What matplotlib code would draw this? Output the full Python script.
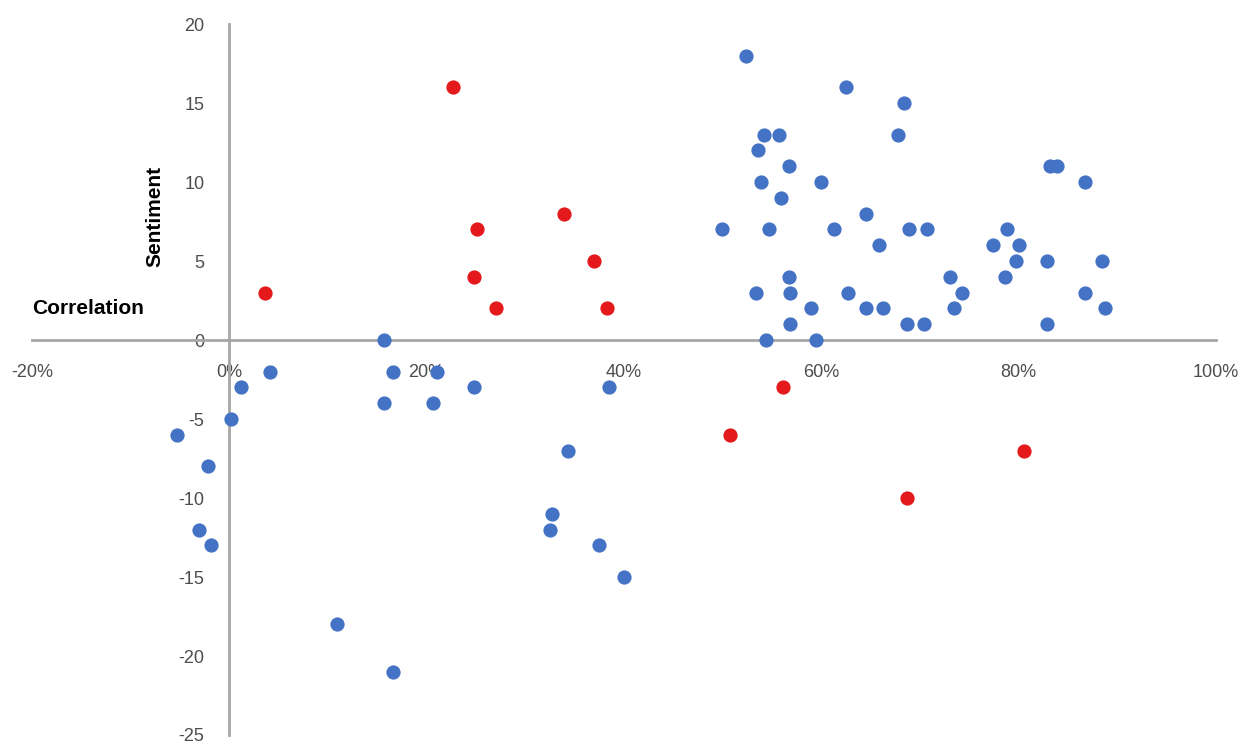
import matplotlib.pyplot as plt
from matplotlib.ticker import FuncFormatter

plt.rcParams['font.family'] = ['Liberation Sans', 'DejaVu Sans']
plt.rcParams['axes.unicode_minus'] = False

# blue points: correlation (%) and sentiment
blue_corr = [15.7, 4.1, 16.6, 1.2, 15.7, 0.2, -5.3, -2.2, -3.1, -1.9, 10.9, 16.6,
             21.0, 24.8, 20.6, 38.5, 34.3, 32.7, 32.5, 37.5, 40.0,
             52.4, 54.2, 55.7, 53.6, 56.7, 53.9, 60.0, 55.9, 49.9, 54.7, 56.7,
             53.4, 56.8, 59.0, 56.8, 54.4, 59.5,
             62.5, 68.4, 67.8, 83.2, 83.9, 86.7, 64.5, 61.3, 68.9, 70.7, 78.8,
             65.8, 77.4, 80.0, 79.7, 82.9, 88.4, 73.0, 78.6, 62.7, 74.3, 86.7,
             64.5, 66.3, 73.4, 88.8, 68.7, 70.4, 82.9]
blue_sent = [0, -2, -2, -3, -4, -5, -6, -8, -12, -13, -18, -21,
             -2, -3, -4, -3, -7, -11, -12, -13, -15,
             18, 13, 13, 12, 11, 10, 10, 9, 7, 7, 4,
             3, 3, 2, 1, 0, 0,
             16, 15, 13, 11, 11, 10, 8, 7, 7, 7, 7,
             6, 6, 6, 5, 5, 5, 4, 4, 3, 3, 3,
             2, 2, 2, 2, 1, 1, 1]

# red points
red_corr = [3.6, 22.7, 25.1, 24.8, 27.0, 33.9, 37.0, 38.3, 56.1, 50.7, 80.5, 68.7]
red_sent = [3, 16, 7, 4, 2, 8, 5, 2, -3, -6, -7, -10]

x_ticks = [-20, 0, 20, 40, 60, 80, 100]
y_ticks = [-25, -20, -15, -10, -5, 0, 5, 10, 15, 20]

fig = plt.figure(figsize=(12.44, 7.44), dpi=100)
ax = fig.add_axes([0.0257, 0.0121, 0.9518, 0.9556])

ax.scatter(blue_corr, blue_sent, s=105, color='#4472C4', linewidths=0, zorder=3)
ax.scatter(red_corr, red_sent, s=105, color='#E3191C', linewidths=0, zorder=3)

ax.set_xlim(-20, 100)
ax.set_ylim(-25, 20)

ax.spines['top'].set_visible(False)
ax.spines['right'].set_visible(False)
ax.spines['left'].set_position(('data', 0))
ax.spines['bottom'].set_position(('data', 0))
for side in ['left', 'bottom']:
    ax.spines[side].set_color('#A6A6A6')
    ax.spines[side].set_linewidth(2)

ax.set_xticks(x_ticks)
ax.set_yticks(y_ticks)
ax.xaxis.set_major_formatter(FuncFormatter(lambda v, p: f'{v:.0f}%'))
ax.tick_params(length=0, labelsize=13, labelcolor='#4D4D4D')
ax.tick_params(axis='x', pad=17)
ax.tick_params(axis='y', pad=18)

fig.text(32 / 1244, 1 - 308 / 744, 'Correlation', fontsize=15, fontweight='bold',
         ha='left', va='center')
fig.text(155 / 1244, 1 - 216 / 744, 'Sentiment', fontsize=15, fontweight='bold',
         rotation=90, ha='center', va='center')

fig.savefig('out.png', dpi=100)
